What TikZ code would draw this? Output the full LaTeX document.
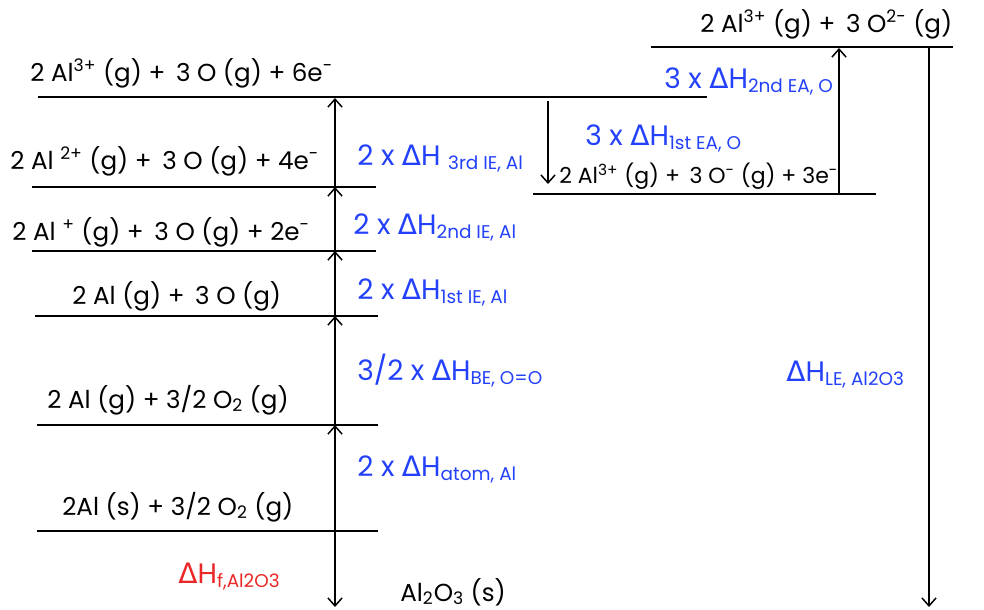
\documentclass[tikz,border=0pt]{standalone}
\usepackage{fontspec}
\setmainfont{Poppins}
\newfontfamily\deltafont{DejaVu Sans}
\usepackage{tikz}
\usetikzlibrary{arrows.meta}
\definecolor{dhblue}{RGB}{35,65,250}
\definecolor{dhred}{RGB}{235,40,40}
\newcommand{\dH}{{\deltafont Δ}H}
\newcommand{\lo}[1]{\textsubscript{\fontsize{10.5}{12}\selectfont #1}}

\begin{document}
\begin{tikzpicture}[x=0.02cm,y=-0.02cm,
  lvl/.style={line width=0.85pt},
  arr/.style={-{Straight Barb[length=4.5pt,width=8pt,line width=0.85pt]},line width=0.85pt},
  lab/.style={anchor=base west,inner sep=0pt,font=\fontsize{14}{16}\selectfont},
  dh/.style={anchor=base west,inner sep=0pt,text=dhblue,font=\fontsize{16}{18}\selectfont}]
\useasboundingbox (0,0) rectangle (984,609);
% levels
\draw[lvl] (651,47) -- (953,47);
\draw[lvl] (38,97) -- (707,97);
\draw[lvl] (32,187) -- (376,187);
\draw[lvl] (533,194) -- (876,194);
\draw[lvl] (32,251) -- (376,251);
\draw[lvl] (35,316) -- (378,316);
\draw[lvl] (37,425) -- (378,425);
\draw[lvl] (37,531) -- (378,531);
% points on the levels
\coordinate (ion6) at (335,98);
\coordinate (ion4) at (335,187);
\coordinate (ion2) at (335,251);
\coordinate (atoms) at (335,316);
\coordinate (oxy) at (335,425);
\coordinate (elem) at (335,531);
\coordinate (prod) at (335,607);
\coordinate (ea1top) at (548,101);
\coordinate (ea1bot) at (548,184);
\coordinate (ea2bot) at (839,194);
\coordinate (ea2top) at (839,48);
\coordinate (letop) at (929,47);
\coordinate (lebot) at (929,607);
% arrows
\draw[arr] (ion4) -- (ion6);
\draw[arr] (ion2) -- (ion4);
\draw[arr] (atoms) -- (ion2);
\draw[arr] (oxy) -- (atoms);
\draw[arr] (elem) -- (oxy);
\draw[arr] (elem) -- (prod);
\draw[arr] (ea1top) -- (ea1bot);
\draw[arr] (ea2bot) -- (ea2top);
\draw[arr] (letop) -- (lebot);
% species
\node[lab] (s1) at (700,32) {2 Al\textsuperscript{3+} (g) +\, 3 O\textsuperscript{2-} (g)};
\node[lab] (s2) at (30,81) {2 Al\textsuperscript{3+} (g) +\, 3 O (g) + 6e\textsuperscript{-}};
\node[lab] (s3) at (10,169) {2 Al \textsuperscript{2+} (g) +\, 3 O (g) + 4e\textsuperscript{-}};
\node[lab,font=\fontsize{12.5}{14}\selectfont] (s4) at (559,183) {2 Al\textsuperscript{3+} (g) +\, 3 O\textsuperscript{-} (g) + 3e\textsuperscript{-}};
\node[lab] (s5) at (12,240) {2 Al \textsuperscript{+} (g) +\, 3 O (g) + 2e\textsuperscript{-}};
\node[lab] (s6) at (72,304) {2 Al (g) +\, 3 O (g)};
\node[lab] (s7) at (47,408) {2 Al (g) + 3/2 O\textsubscript{2} (g)};
\node[lab] (s8) at (62,515) {2Al (s) + 3/2 O\textsubscript{2} (g)};
\node[lab] (s9) at (400,601) {Al\textsubscript{2}O\textsubscript{3} (s)};
% enthalpy changes
\node[dh] (h1) at (664,88) {3 x \dH\lo{2nd EA, O}};
\node[dh] (h2) at (585,145) {3 x \dH\lo{1st EA, O}};
\node[dh] (h3) at (357,165) {2 x \dH\ \lo{3rd IE, Al}};
\node[dh] (h4) at (353,234) {2 x \dH\lo{2nd IE, Al}};
\node[dh] (h5) at (357,299) {2 x \dH\lo{1st IE, Al}};
\node[dh] (h6) at (357,380) {3/2 x \dH\lo{BE, O=O}};
\node[dh] (h7) at (357,476) {2 x \dH\lo{atom, Al}};
\node[dh] (h8) at (786,381) {\dH\lo{LE, Al2O3}};
\node[dh,text=dhred] (h9) at (178,583) {\dH\lo{f,Al2O3}};
\end{tikzpicture}
\end{document}
